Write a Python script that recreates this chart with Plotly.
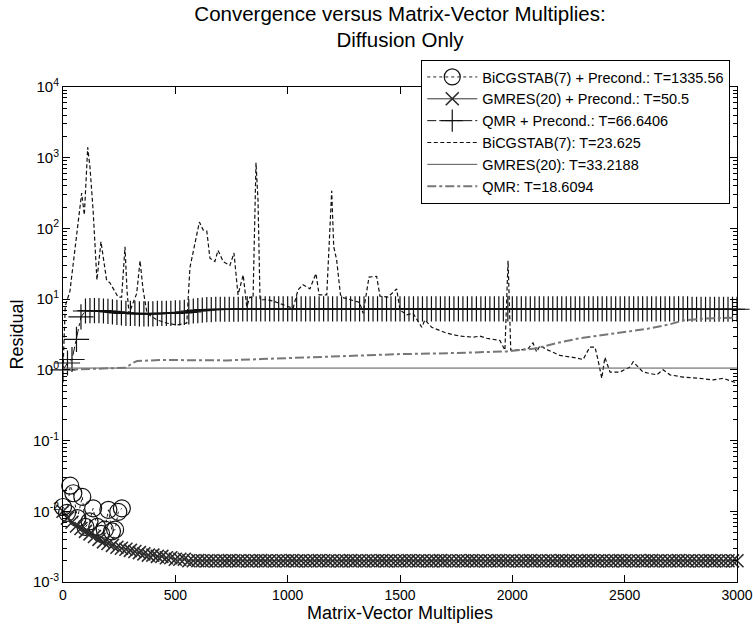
import plotly.graph_objects as go

# ---- data -------------------------------------------------------------
# BiCGSTAB(7) with preconditioner (circle markers, dotted)
bicg_p_x = [0, 18, 32, 46, 64, 86, 100, 118, 134, 152, 170, 186, 202, 218, 232, 246, 262]
bicg_p_y = [0.0115, 0.0095, 0.023, 0.018, 0.008, 0.016, 0.006, 0.0072, 0.011, 0.006,
            0.0048, 0.0055, 0.0105, 0.0052, 0.0055, 0.0098, 0.011]

# GMRES(20) with preconditioner (x markers), sampled every 20 matvecs
gmres_p_x = list(range(0, 3001, 20))
gmres_p_y = [
    0.0100, 0.0080, 0.0070, 0.0062, 0.0057, 0.0052, 0.0048, 0.0044, 0.0040, 0.0037,
    0.0035, 0.0033, 0.0031, 0.0030, 0.0029, 0.0028, 0.0027, 0.0026, 0.0025, 0.0024,
    0.0024, 0.0023, 0.0023, 0.0022, 0.0022, 0.0021, 0.0021, 0.0021, 0.0020, 0.0020,
    0.00201, 0.00200, 0.00199, 0.00200, 0.00198, 0.00200, 0.00199, 0.00201, 0.00200, 0.00199,
    0.00200, 0.00198, 0.00199, 0.00200, 0.00201, 0.00199, 0.00200, 0.00198, 0.00200, 0.00199,
    0.00200, 0.00201, 0.00199, 0.00200, 0.00198, 0.00199, 0.00200, 0.00201, 0.00200, 0.00199,
    0.00200, 0.00198, 0.00199, 0.00200, 0.00201, 0.00199, 0.00200, 0.00198, 0.00200, 0.00199,
    0.00200, 0.00201, 0.00199, 0.00200, 0.00198, 0.00199, 0.00200, 0.00201, 0.00200, 0.00199,
    0.00200, 0.00198, 0.00199, 0.00200, 0.00201, 0.00199, 0.00200, 0.00198, 0.00200, 0.00199,
    0.00200, 0.00201, 0.00199, 0.00200, 0.00198, 0.00199, 0.00200, 0.00201, 0.00200, 0.00199,
    0.00200, 0.00198, 0.00199, 0.00200, 0.00201, 0.00199, 0.00200, 0.00198, 0.00200, 0.00199,
    0.00200, 0.00201, 0.00199, 0.00200, 0.00198, 0.00199, 0.00200, 0.00201, 0.00200, 0.00199,
    0.00200, 0.00198, 0.00199, 0.00200, 0.00201, 0.00199, 0.00200, 0.00198, 0.00200, 0.00199,
    0.00200, 0.00201, 0.00199, 0.00200, 0.00198, 0.00199, 0.00200, 0.00201, 0.00200, 0.00199,
    0.00200, 0.00198, 0.00199, 0.00200, 0.00201, 0.00199, 0.00200, 0.00198, 0.00200, 0.00199,
    0.00200,
]

# QMR with preconditioner (plus markers), sampled every 20 matvecs
qmr_p_x = list(range(0, 3001, 20))
qmr_p_y = [
    # 0 .. 180
    1.0, 1.25, 1.4, 2.7, 5.6, 6.8, 6.9, 6.9, 6.9, 6.8,
    # 200 .. 280
    6.7, 6.6, 6.5, 6.4, 6.3,
    # 300 .. 540
    6.3, 6.3, 6.2, 6.2, 6.2, 6.2, 6.3, 6.3, 6.3, 6.3, 6.4, 6.4, 6.5,
    # 560 .. 680
    6.6, 6.8, 6.9, 7.0, 7.1, 7.1, 7.2,
    # 700 .. 3000
    7.2, 7.2, 7.2, 7.2, 7.2, 7.3, 7.3, 7.3, 7.3, 7.3,
    7.3, 7.3, 7.3, 7.3, 7.3, 7.3, 7.3, 7.3, 7.3, 7.3,
    7.3, 7.3, 7.3, 7.3, 7.3, 7.3, 7.3, 7.3, 7.3, 7.3,
    7.3, 7.3, 7.3, 7.3, 7.3, 7.3, 7.3, 7.3, 7.3, 7.3,
    7.3, 7.3, 7.3, 7.3, 7.3, 7.3, 7.3, 7.3, 7.3, 7.3,
    7.3, 7.3, 7.3, 7.3, 7.3, 7.3, 7.3, 7.3, 7.3, 7.3,
    7.3, 7.3, 7.3, 7.3, 7.3, 7.3, 7.3, 7.3, 7.3, 7.3,
    7.3, 7.3, 7.3, 7.3, 7.3, 7.3, 7.3, 7.3, 7.3, 7.3,
    7.3, 7.3, 7.3, 7.3, 7.3, 7.3, 7.3, 7.3, 7.3, 7.3,
    7.3, 7.3, 7.3, 7.3, 7.3, 7.3, 7.3, 7.3, 7.3, 7.3,
    7.3, 7.3, 7.3, 7.3, 7.3, 7.2, 7.2, 7.2, 7.2, 7.2,
    7.2, 7.2, 7.2, 7.2, 7.2, 7.2,
]

# BiCGSTAB(7) without preconditioner (dashed)
bicg_x = [0, 10, 31, 61, 83, 95, 110, 120, 134, 151, 169, 194, 209, 245, 261, 276, 285, 294,
          328, 343, 356, 374, 417, 460, 506, 551, 565, 607, 624, 640, 654, 676, 690, 713,
          743, 761, 779, 802, 818, 832, 846, 859, 868, 877, 907, 935, 1024, 1046, 1068,
          1099, 1126, 1140, 1174, 1196, 1205, 1218, 1235, 1246, 1291, 1320, 1336, 1362,
          1396, 1411, 1447, 1485, 1500, 1530, 1558, 1597, 1611, 1641, 1708, 1767, 1825,
          1856, 1886, 1945, 1967, 1981, 1993, 2034, 2070, 2092, 2108, 2123, 2159, 2212,
          2270, 2315, 2345, 2368, 2381, 2398, 2412, 2435, 2479, 2524, 2538, 2582, 2643,
          2671, 2702, 2760, 2835, 2893, 2938, 2976, 3000]
bicg_y = [1.0, 8, 13, 87, 316, 155, 1400, 740, 180, 18.6, 65, 18.6, 17, 10.7, 10.7, 55, 13, 6.3,
          12, 35, 14, 6.3, 5.1, 4.6, 4.3, 4.6, 28, 123, 95, 92, 38, 34, 49, 34,
          30, 45, 11.5, 22, 7.8, 10.7, 10.3, 850, 250, 9.8, 9.8, 9.4, 7.4, 13.5, 16,
          14, 23, 11.5, 11.5, 340, 55, 36, 11.5, 10.5, 9.5, 9.0, 6.3, 20.5,
          21, 11, 10.7, 14, 7.0, 6.0, 6.3, 4.0, 5.1, 4.0, 3.3, 3.0, 2.9,
          3.0, 2.8, 2.6, 1.9, 35, 1.9, 1.9, 2.0, 2.4, 1.8, 2.2, 1.9, 1.6,
          1.5, 1.4, 2.1, 2.1, 1.4, 0.76, 1.5, 0.93, 0.93, 1.1, 1.3, 0.93, 0.85,
          1.0, 0.85, 0.79, 0.76, 0.72, 0.76, 0.68, 0.65]

# GMRES(20) without preconditioner (solid)
gmres_x = [0, 500, 1000, 1500, 2000, 2500, 3000]
gmres_y = [1.06, 1.06, 1.06, 1.06, 1.06, 1.06, 1.06]

# QMR without preconditioner (dash-dot)
qmr_x = [0, 100, 200, 280, 310, 330, 430, 600, 730, 880, 1020, 1230, 1350, 1500, 1650,
         1800, 1975, 2100, 2200, 2300, 2400, 2500, 2600, 2700, 2760, 2850, 2950, 3000]
qmr_y = [1.0, 1.02, 1.04, 1.07, 1.25, 1.33, 1.38, 1.37, 1.36, 1.42, 1.48, 1.56, 1.62, 1.67,
         1.70, 1.74, 1.82, 2.0, 2.4, 2.8, 3.1, 3.4, 3.8, 4.4, 5.0, 5.3, 5.4, 5.5]

y_tick_vals = [1e-3, 1e-2, 1e-1, 1e0, 1e1, 1e2, 1e3, 1e4]
y_tick_text = ["10<sup>-3</sup>", "10<sup>-2</sup>", "10<sup>-1</sup>", "10<sup>0</sup>",
               "10<sup>1</sup>", "10<sup>2</sup>", "10<sup>3</sup>", "10<sup>4</sup>"]
x_tick_vals = [0, 500, 1000, 1500, 2000, 2500, 3000]

FONT = "Liberation Sans, Arial, sans-serif"

# ---- figure -----------------------------------------------------------
fig = go.Figure()

fig.add_trace(go.Scatter(
    x=bicg_p_x, y=bicg_p_y, mode="lines+markers",
    name="BiCGSTAB(7) + Precond.: T=1335.56",
    line=dict(color="#222", width=1, dash="dot"),
    marker=dict(symbol="circle-open", size=17, color="#111",
                line=dict(color="#111", width=1.2)),
    cliponaxis=False,
))
fig.add_trace(go.Scatter(
    x=gmres_p_x, y=gmres_p_y, mode="lines+markers",
    name="GMRES(20) + Precond.: T=50.5",
    line=dict(color="#333", width=1),
    marker=dict(symbol="x-thin-open", size=13, color="#2a2a2a",
                line=dict(color="#2a2a2a", width=1.6)),
    cliponaxis=False,
))
fig.add_trace(go.Scatter(
    x=qmr_p_x, y=qmr_p_y, mode="lines+markers",
    name="QMR + Precond.: T=66.6406",
    line=dict(color="#111", width=1, dash="dashdot"),
    marker=dict(symbol="cross-thin-open", size=18, color="#111",
                line=dict(color="#111", width=1.2)),
    cliponaxis=False,
))
fig.add_trace(go.Scatter(
    x=bicg_x, y=bicg_y, mode="lines",
    name="BiCGSTAB(7): T=23.625",
    line=dict(color="#111", width=1.2, dash="4px,2.5px"),
))
fig.add_trace(go.Scatter(
    x=gmres_x, y=gmres_y, mode="lines",
    name="GMRES(20): T=33.2188",
    line=dict(color="#555", width=1),
))
fig.add_trace(go.Scatter(
    x=qmr_x, y=qmr_y, mode="lines",
    name="QMR: T=18.6094",
    line=dict(color="#777", width=2, dash="dashdot"),
))

minor_y = [k * 10.0 ** e for e in range(-3, 4) for k in range(2, 10)]

fig.update_layout(
    width=753, height=626,
    margin=dict(l=63, r=16, t=87, b=44),
    paper_bgcolor="white", plot_bgcolor="white",
    font=dict(family=FONT, size=14, color="black"),
    title=dict(
        text="Convergence versus Matrix-Vector Multiplies:<br>Diffusion Only",
        x=0.5, xref="paper", xanchor="center",
        y=0.967, yref="container", yanchor="top",
        font=dict(family=FONT, size=20.5, color="black"),
    ),
    showlegend=True,
    legend=dict(
        x=0.99, xanchor="right", y=1.0545, yanchor="top",
        bgcolor="white", bordercolor="black", borderwidth=1,
        font=dict(family=FONT, size=14.5, color="black"),
        itemwidth=50, tracegroupgap=0,
    ),
)

fig.update_xaxes(
    range=[0, 3000], tickvals=x_tick_vals,
    ticks="inside", ticklen=7, tickcolor="black", tickwidth=1,
    showline=True, linecolor="black", linewidth=1, mirror="ticks",
    showgrid=False, zeroline=False,
    tickfont=dict(family=FONT, size=14),
    title=dict(text="Matrix-Vector Multiplies", standoff=1,
               font=dict(family=FONT, size=18)),
    automargin=False,
)
fig.update_yaxes(
    type="log", range=[-3, 4],
    tickvals=y_tick_vals, ticktext=y_tick_text,
    ticks="inside", ticklen=7, tickcolor="black", tickwidth=1,
    minor=dict(tickvals=minor_y, ticks="inside", ticklen=4,
               tickcolor="black", tickwidth=1, showgrid=False),
    showline=True, linecolor="black", linewidth=1, mirror="ticks",
    showgrid=False, zeroline=False,
    tickfont=dict(family=FONT, size=15),
    title=dict(text="Residual", standoff=4, font=dict(family=FONT, size=18)),
    automargin=False,
)

fig.write_html("out.html")
